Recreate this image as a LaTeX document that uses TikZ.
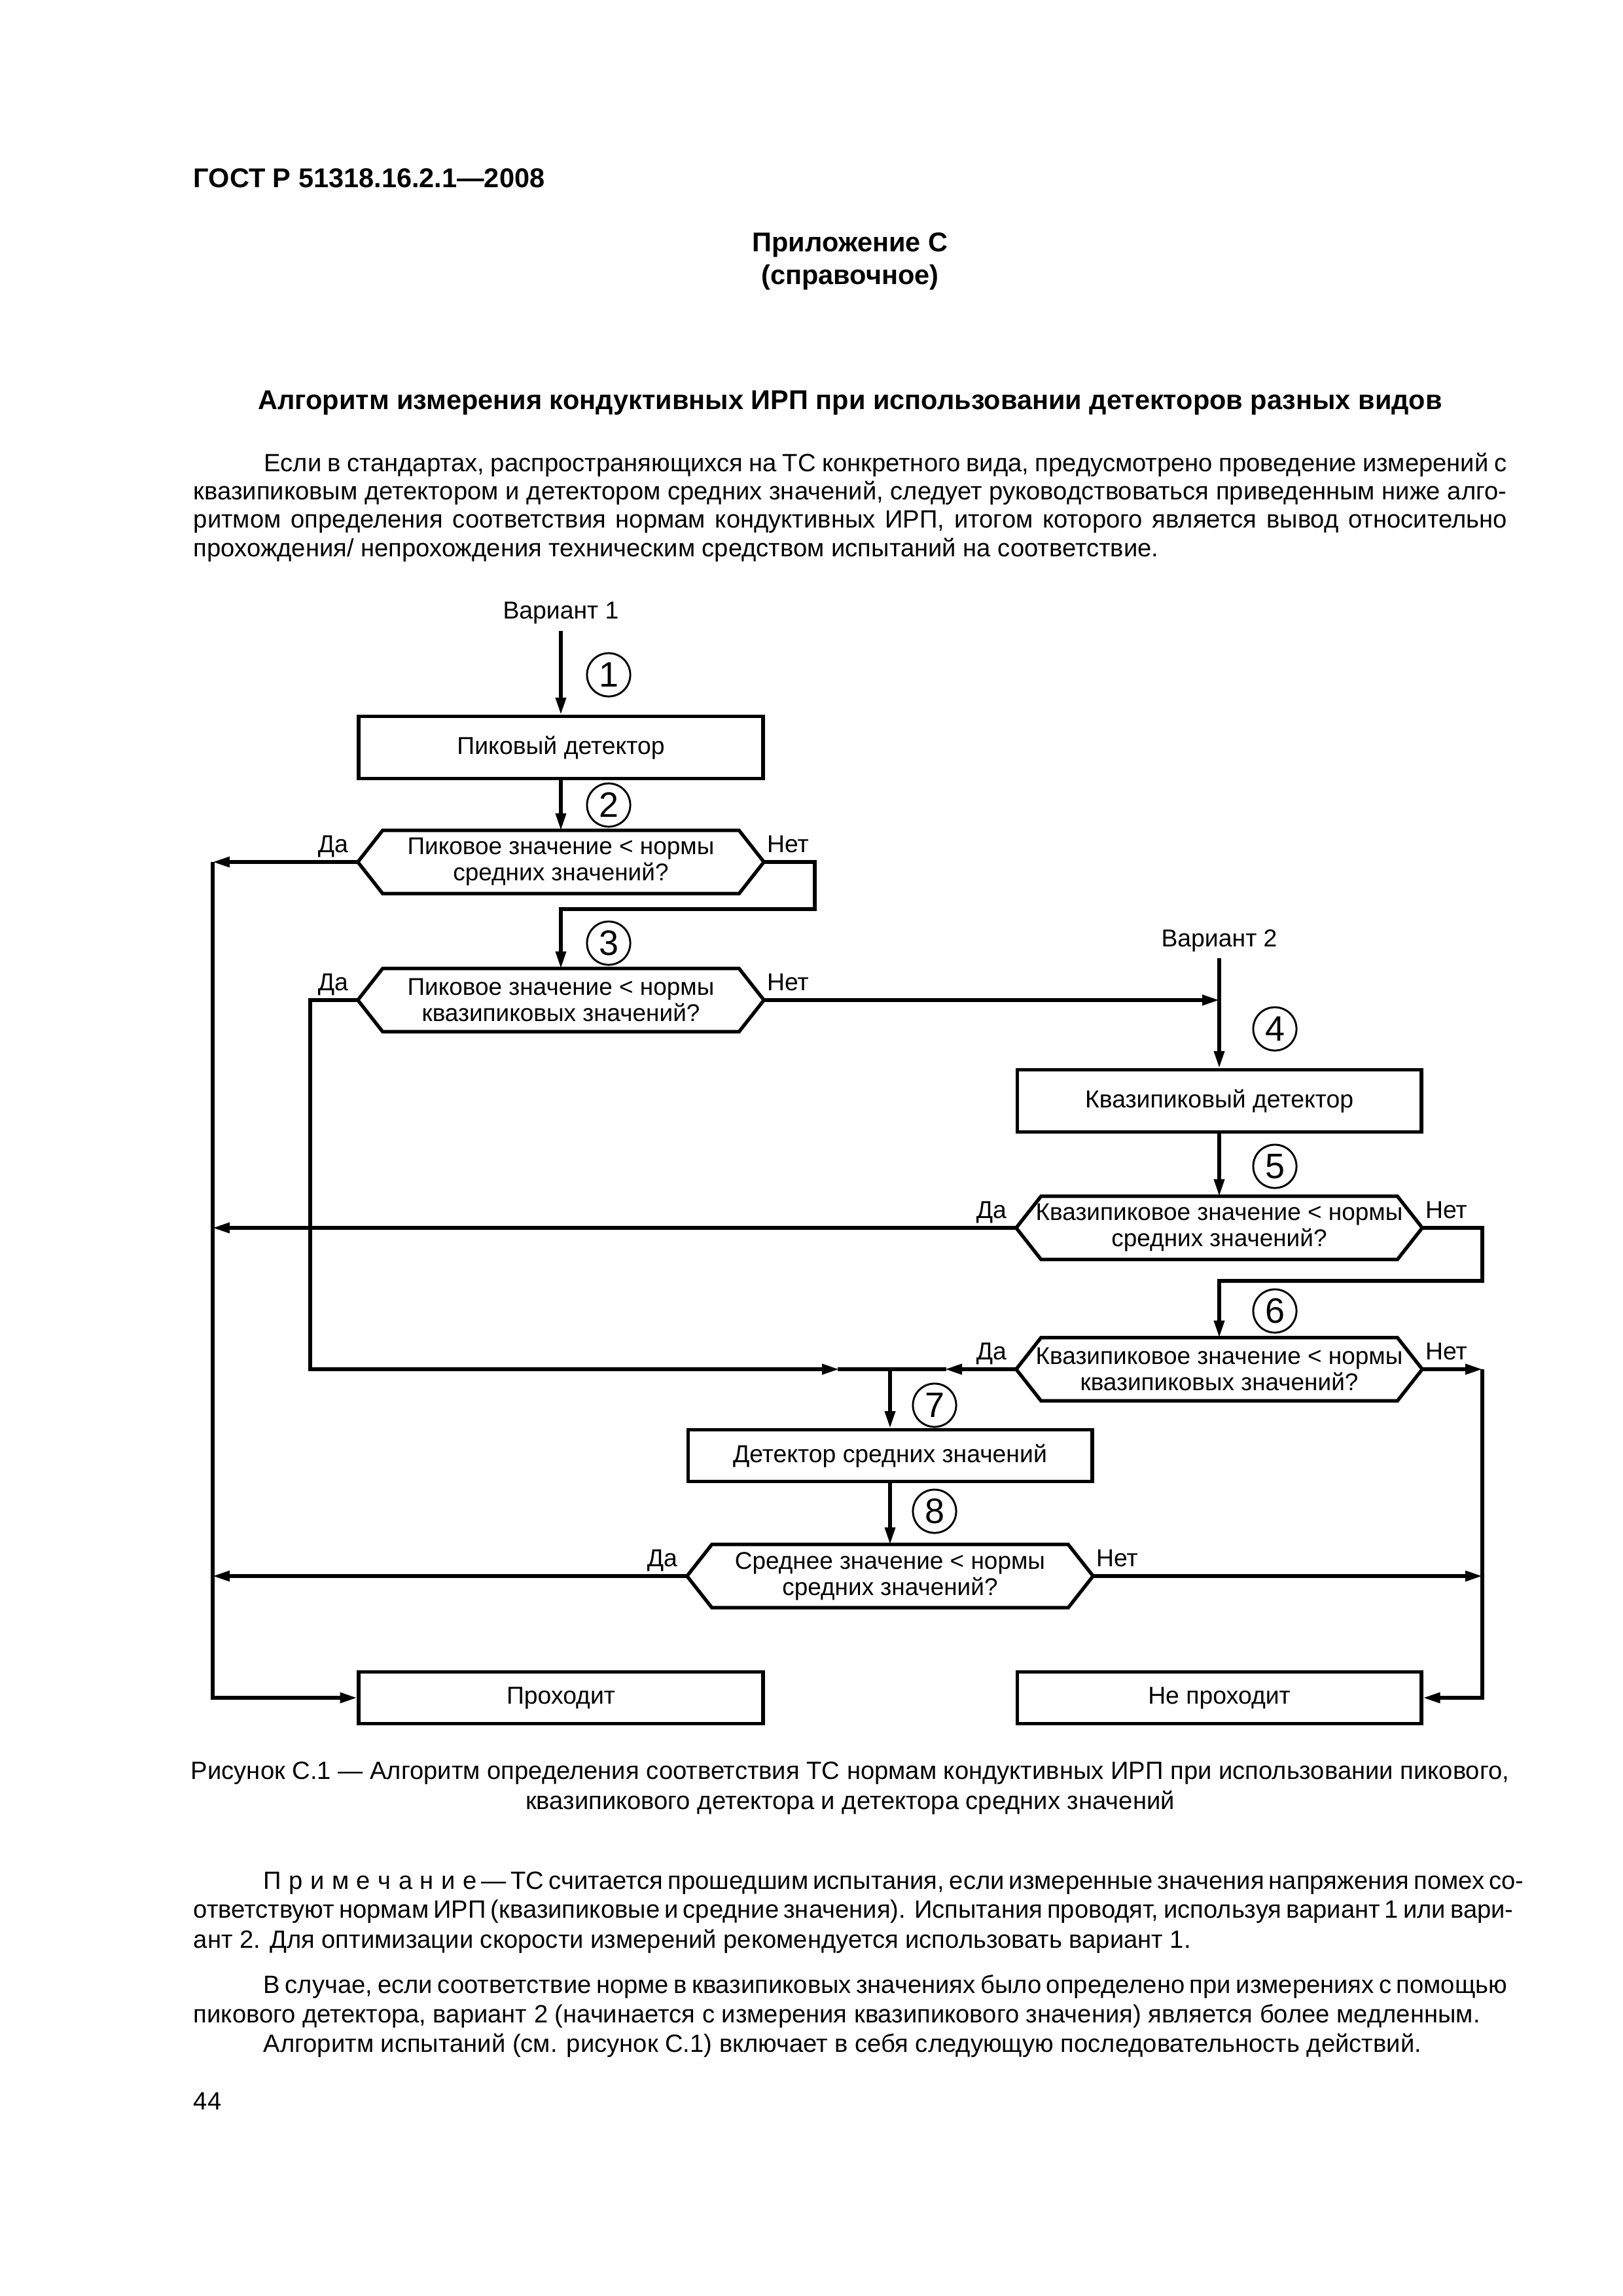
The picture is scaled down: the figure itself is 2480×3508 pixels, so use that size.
\documentclass[tikz,border=0pt]{standalone}
\usepackage{fontspec}
\setmainfont{Liberation Sans}
\usetikzlibrary{arrows.meta, calc, positioning}

\tikzset{
  wire/.style={line width=0.45mm},
  arr/.style={wire, -{Triangle[length=2.2mm, width=1.3mm]}},
  box/.style={draw, line width=0.45mm, minimum width=52.3mm, minimum height=8.04mm,
    inner sep=0pt, font=\fontsize{9}{10}\selectfont},
  lowbox/.style={box, minimum height=6.65mm},
  decision/.style={minimum width=52.4mm, minimum height=8.04mm, inner sep=0pt,
    align=center, font=\fontsize{8.9}{9.6}\selectfont},
  num/.style={circle, draw, line width=0.25mm, minimum size=5.6mm, inner sep=0pt,
    font=\fontsize{13}{13}\selectfont},
  yn/.style={inner sep=0pt, font=\fontsize{9}{10}\selectfont},
  body/.style={anchor=west, inner sep=0pt, font=\fontsize{9.2}{11}\selectfont},
  head/.style={inner sep=0pt, font=\fontsize{10}{12}\selectfont\bfseries},
}
\newcommand\lsp{\kern0.3em}
\newcommand\drawhex[1]{%
  \draw[wire] (#1.west) -- ($(#1.north west)+(38,0)$) -- ($(#1.north east)+(-38,0)$)
    -- (#1.east) -- ($(#1.south east)+(-38,0)$) -- ($(#1.south west)+(38,0)$) -- cycle;}

\begin{document}
\begin{tikzpicture}[x=0.08467mm, y=-0.08467mm]
\fill[white] (0,0) rectangle (2480,3508);
\useasboundingbox (0,0) rectangle (2480,3508);

% page head
\node[head, anchor=west] (gost) at (295,272) {ГОСТ Р 51318.16.2.1—2008};
\node[head] (app) at (1299,374) {Приложение С};
\node[head] (ref) at (1299,424) {(справочное)};
\node[head] (title) at (1299,616) {Алгоритм измерения кондуктивных ИРП при использовании детекторов разных видов};

\node[body] (p1a) at (403,710) {\makebox[160.8mm][s]{Если в стандартах, распространяющихся на ТС конкретного вида, предусмотрено проведение измерений с}};
\node[body] (p1b) at (295,753) {\makebox[169.9mm][s]{квазипиковым детектором и детектором средних значений, следует руководствоваться приведенным ниже алго-}};
\node[body] (p1c) at (295,797) {\makebox[169.9mm][s]{ритмом определения соответствия нормам кондуктивных ИРП, итогом которого является вывод относительно}};
\node[body] (p1d) at (295,840) {прохождения/ непрохождения техническим средством испытаний на соответствие.};

% flowchart
\node[yn] (v1) at (857,937) {Вариант 1};
\node[box] (peak) at (857,1142) {Пиковый детектор};
\node[decision] (q1) at (857,1317) {Пиковое значение < нормы\\средних значений?};
\node[decision] (q2) at (857,1528) {Пиковое значение < нормы\\квазипиковых значений?};
\node[yn] (v2) at (1863,1437) {Вариант 2};
\node[box] (qpeak) at (1863,1682) {Квазипиковый детектор};
\node[decision] (q3) at (1863,1876) {Квазипиковое значение < нормы\\средних значений?};
\node[decision] (q4) at (1863,2092) {Квазипиковое значение < нормы\\квазипиковых значений?};
\node[lowbox] (avg) at (1360,2224) {Детектор средних значений};
\node[decision] (q5) at (1360,2408) {Среднее значение < нормы\\средних значений?};
\node[lowbox] (pass) at (857,2594) {Проходит};
\node[lowbox] (fail) at (1863,2594) {Не проходит};

\foreach \n/\x/\y in {1/930/1031, 2/930/1230, 3/930/1441, 4/1948/1572,
                      5/1948/1782, 6/1948/2003, 7/1428/2147, 8/1428/2309}
  \node[num] (c\n) at (\x,\y) {\n};

\coordinate (lrail) at (325,0);
\coordinate (rrail) at (2265,0);
\coordinate (jog1) at (1245,1389);
\coordinate (jog2) at (2265,1957);
\coordinate (mbend) at (474,2092);
\coordinate (j7) at (avg.north |- q4.west);

\foreach \q in {q1,q2,q3,q4,q5} {
  \drawhex{\q}
  \node[yn, anchor=base east] (\q-yes) at ($(\q.west)+(-14,-15)$) {Да};
  \node[yn, anchor=base west] (\q-no) at ($(\q.east)+(4,-15)$) {Нет};
}

\draw[arr] ([yshift=-0.8mm]v1.south) -- (peak.north);
\draw[arr] (peak.south) -- (q1.north);
\draw[arr] (q1.west) -- (q1.west -| lrail);
\draw[arr] (q1.west -| lrail) |- (pass.west);
\draw[arr] (q1.east) -| (jog1) -| (q2.north);
\draw[arr] (q2.east) -- (q2.east -| v2.south);
\draw[arr] (q2.west) -| (mbend) -- ($(j7)+(-78,0)$);
\draw[wire] ($(j7)+(-80,0)$) -- (j7);
\draw[arr] ([yshift=-0.8mm]v2.south) -- (qpeak.north);
\draw[arr] (qpeak.south) -- (q3.north);
\draw[arr] (q3.west) -- (q3.west -| lrail);
\draw[arr] (q3.east) -| (jog2) -| (q4.north);
\draw[arr] (q4.west) -- ($(j7)+(84,0)$);
\draw[wire] ($(j7)+(86,0)$) -- (j7);
\draw[arr] (q4.east) -- (q4.east -| rrail);
\draw[arr] (q4.east -| rrail) |- (fail.east);
\draw[arr] (j7) -- (avg.north);
\draw[arr] (avg.south) -- (q5.north);
\draw[arr] (q5.west) -- (q5.west -| lrail);
\draw[arr] (q5.east) -- (q5.east -| rrail);

% caption and notes
\node[yn, font=\fontsize{9.2}{11}\selectfont] (cap1) at (1299,2709) {Рисунок С.1 — Алгоритм определения соответствия ТС нормам кондуктивных ИРП при использовании пикового,};
\node[yn, font=\fontsize{9.2}{11}\selectfont] (cap2) at (1299,2754) {квазипикового детектора и детектора средних значений};

\node[body] (n1) at (402,2877) {\makebox[160.9mm][s]{П\lsp р\lsp и\lsp м\lsp е\lsp ч\lsp а\lsp н\lsp и\lsp е — ТС считается прошедшим испытания, если измеренные значения напряжения помех со-}};
\node[body] (n2) at (295,2921) {\makebox[169.9mm][s]{ответствуют нормам ИРП (квазипиковые и средние значения). Испытания проводят, используя вариант 1 или вари-}};
\node[body] (n3) at (295,2966) {ант 2. Для оптимизации скорости измерений рекомендуется использовать вариант 1.};
\node[body] (r1) at (402,3035) {\makebox[160.9mm][s]{В случае, если соответствие норме в квазипиковых значениях было определено при измерениях с помощью}};
\node[body] (r2) at (295,3080) {пикового детектора, вариант 2 (начинается с измерения квазипикового значения) является более медленным.};
\node[body] (r3) at (402,3125) {Алгоритм испытаний (см. рисунок С.1) включает в себя следующую последовательность действий.};
\node[body] (page) at (295,3210) {44};
\end{tikzpicture}
\end{document}
